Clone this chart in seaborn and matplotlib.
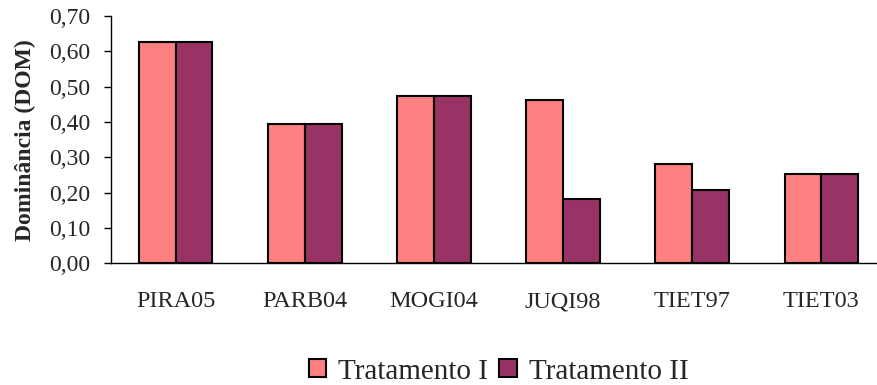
import matplotlib
matplotlib.use("Agg")
import matplotlib.pyplot as plt
import matplotlib.ticker as mticker
import seaborn as sns
import pandas as pd
import numpy as np

# Dominância por ponto de coleta
sites = ["PIRA05", "PARB04", "MOGI04", "JUQI98", "TIET97", "TIET03"]
trat_1 = [0.625, 0.394, 0.473, 0.462, 0.282, 0.253]
trat_2 = [0.625, 0.394, 0.473, 0.181, 0.208, 0.253]
series = ["Tratamento I", "Tratamento II"]
colors = ["#FF8080", "#993366"]
yticks = [0.0, 0.1, 0.2, 0.3, 0.4, 0.5, 0.6, 0.7]

df = pd.DataFrame({
    "site": sites * 2,
    "valor": trat_1 + trat_2,
    "trat": [series[0]] * len(sites) + [series[1]] * len(sites),
})

sns.set_theme(style="white")
plt.rcParams["font.family"] = ["Liberation Serif", "DejaVu Serif"]

fig = plt.figure(figsize=(8.78, 3.85), dpi=100)
ax = fig.add_axes([111 / 878, 1 - 263.3 / 385, (886 - 111) / 878, (263.3 - 16) / 385])

sns.barplot(data=df, x="site", y="valor", hue="trat", order=sites,
            hue_order=series, palette=colors, width=0.57, gap=0,
            edgecolor="black", linewidth=1.5, saturation=1, ax=ax)

ax.set_xlim(-0.5, len(sites) - 0.5)
ax.set_ylim(0, 0.70)
ax.set_yticks(yticks)
ax.yaxis.set_major_formatter(mticker.FuncFormatter(lambda v, p: f"{v:.2f}".replace(".", ",")))

# category separators as minor ticks on x
ax.set_xticks(np.arange(-0.5, len(sites), 1.0), minor=True)
ax.tick_params(axis="x", which="major", length=0, pad=20, labelsize=17.5)
ax.tick_params(axis="x", which="minor", length=6, width=1, color="#555555", direction="out")
ax.tick_params(axis="y", which="major", length=5, width=1, color="black", direction="out",
               labelsize=17, pad=10, left=True)

for s in ["top", "right"]:
    ax.spines[s].set_visible(False)
for s in ["left", "bottom"]:
    ax.spines[s].set_color("black")
    ax.spines[s].set_linewidth(1.0)

ax.set_xlabel("")
ax.set_ylabel("Dominância (DOM)", fontsize=17, fontweight="bold", labelpad=9)

leg = ax.legend(loc="upper center", bbox_to_anchor=(0.5, -0.385), ncol=2, frameon=False,
                fontsize=21, handlelength=0.6, handleheight=0.55, handletextpad=0.4,
                columnspacing=0.4, borderaxespad=0, borderpad=0)
for h in leg.legend_handles:
    h.set_edgecolor("black")
    h.set_linewidth(1.5)

fig.savefig("out.png", dpi=100)
